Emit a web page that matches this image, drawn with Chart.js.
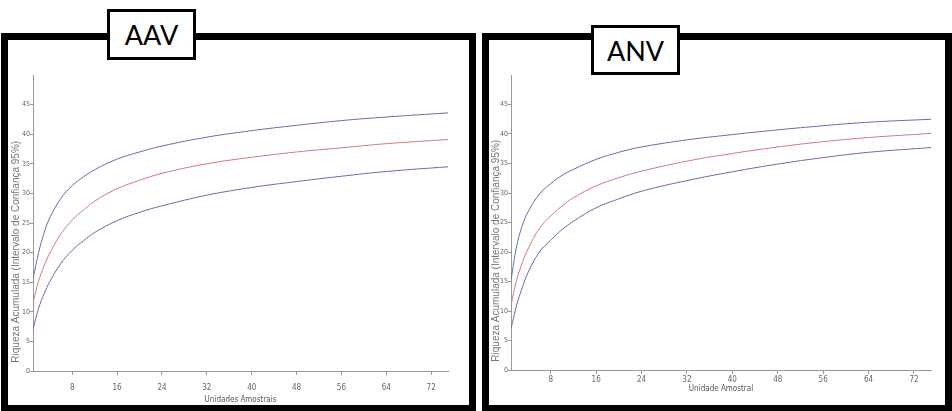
<!DOCTYPE html>
<html>
<head>
<meta charset="utf-8">
<script src="https://cdn.jsdelivr.net/npm/chart.js@4"></script>
<style>
    body { margin: 0; width: 952px; height: 411px; overflow: hidden; background: #fff; position: relative; }
    .painel { position: absolute; box-sizing: border-box; border: 7px solid #000; border-bottom-width: 6px; }
    .rotulo {
        position: absolute; box-sizing: border-box; border: 3px solid #000; background: #fff;
        font-family: Lato, 'Noto Sans', sans-serif; font-size: 27px; color: #000;
        display: flex; align-items: center; justify-content: center; z-index: 2;
    }
    canvas { position: absolute; }
</style>
</head>
<body>
<div class="painel" style="left:1px; top:33px; width:475px; height:378px;"></div>
<div class="painel" style="left:482px; top:33px; width:470px; height:378px;"></div>
<div class="rotulo" style="left:107px; top:9px; width:89px; height:51px;">AAV</div>
<div class="rotulo" style="left:591px; top:25px; width:89px; height:50px;">ANV</div>

<canvas id="graficoAAV" width="444" height="343" style="left:10px; top:62px;"></canvas>
<canvas id="graficoANV" width="446" height="332" style="left:490px; top:62px;"></canvas>

<script>
// unidades amostrais (eixo X)
const unidades = [1, 2, 3, 4, 6, 8, 10, 12, 16, 20, 24, 32, 40, 48, 56, 64, 75];
const xTicks = [8, 16, 24, 32, 40, 48, 56, 64, 72];
const yTicks = [0, 5, 10, 15, 20, 25, 30, 35, 40, 45];

// AAV - riqueza acumulada e intervalo de confiança 95%
const aavSup = [15.5, 20.0, 23.4, 25.9, 29.2, 31.3, 32.8, 34.0, 35.8, 37.0, 38.0, 39.5, 40.6, 41.5, 42.3, 42.9, 43.6];
const aavMed = [11.5, 15.2, 17.8, 19.9, 23.2, 25.5, 27.2, 28.7, 30.8, 32.2, 33.4, 35.0, 36.1, 37.0, 37.7, 38.4, 39.1];
const aavInf = [7.0, 10.6, 13.1, 15.1, 18.2, 20.4, 22.0, 23.4, 25.4, 26.8, 27.9, 29.7, 31.0, 32.0, 32.9, 33.7, 34.5];

// ANV
const anvSup = [15.2, 21.0, 24.5, 26.8, 29.8, 31.6, 33.0, 34.0, 35.7, 36.9, 37.8, 39.0, 39.9, 40.7, 41.4, 42.0, 42.5];
const anvMed = [11.0, 15.3, 18.2, 20.5, 24.0, 26.1, 27.8, 29.2, 31.2, 32.6, 33.7, 35.4, 36.7, 37.8, 38.7, 39.4, 40.1];
const anvInf = [7.0, 11.0, 14.0, 16.5, 20.0, 22.0, 23.8, 25.2, 27.5, 29.0, 30.3, 32.1, 33.6, 34.9, 36.0, 36.9, 37.7];

const corAzul = 'rgb(105, 105, 178)';
const corVermelho = 'rgb(212, 120, 120)';
const fonteEstreita = "'Liberation Sans Narrow', 'DejaVu Sans Condensed', sans-serif";

function serie(valores, cor) {
    return {
        data: unidades.map((x, i) => ({ x: x, y: valores[i] })),
        borderColor: cor,
        borderWidth: 1,
        pointRadius: 0,
        fill: false,
        tension: 0.4
    };
}

function criarGrafico(id, sup, med, inf, tituloX, cfg) {
    const ctx = document.getElementById(id).getContext('2d');
    return new Chart(ctx, {
        type: 'line',
        data: { datasets: [serie(sup, corAzul), serie(med, corVermelho), serie(inf, corAzul)] },
        options: {
            responsive: false,
            animation: false,
            layout: { padding: { top: 13, right: cfg.padDir, left: 0, bottom: 0 } },
            plugins: { legend: { display: false }, tooltip: { enabled: false } },
            scales: {
                x: {
                    type: 'linear',
                    min: 1,
                    max: 75,
                    afterBuildTicks: s => { s.ticks = xTicks.map(v => ({ value: v })); },
                    afterFit: s => { s.height = cfg.altX; },
                    grid: { drawOnChartArea: false, tickLength: 4, color: '#999' },
                    border: { color: '#999' },
                    ticks: { color: '#666', font: { family: fonteEstreita, size: 8 }, padding: cfg.padTickX, maxRotation: 0 },
                    title: { display: true, text: tituloX, color: '#555', font: { family: fonteEstreita, size: 8 }, padding: 0 }
                },
                y: {
                    min: 0,
                    max: 50,
                    afterBuildTicks: s => { s.ticks = yTicks.map(v => ({ value: v })); },
                    afterFit: s => { s.width = cfg.largY; },
                    grid: { drawOnChartArea: false, tickLength: 3, color: '#999' },
                    border: { color: '#999' },
                    ticks: { color: '#666', font: { family: fonteEstreita, size: 7 }, padding: 0 },
                    title: {
                        display: true,
                        align: 'start',  // o título começa perto da base do eixo
                        text: '   Riqueza Acumulada (Intervalo de Confiança 95%)',
                        color: '#777',
                        font: { family: "'Liberation Sans', Arial, sans-serif", size: 10 },
                        padding: { top: cfg.padTituloY, bottom: 0 }
                    }
                }
            }
        }
    });
}

criarGrafico('graficoAAV', aavSup, aavMed, aavInf, 'Unidades Amostrais',
    { padDir: 6, altX: 34, largY: 23, padTickX: 8, padTituloY: 0 });
criarGrafico('graficoANV', anvSup, anvMed, anvInf, 'Unidade Amostral',
    { padDir: 5, altX: 24, largY: 21, padTickX: 1, padTituloY: 0 });
</script>
</body>
</html>
